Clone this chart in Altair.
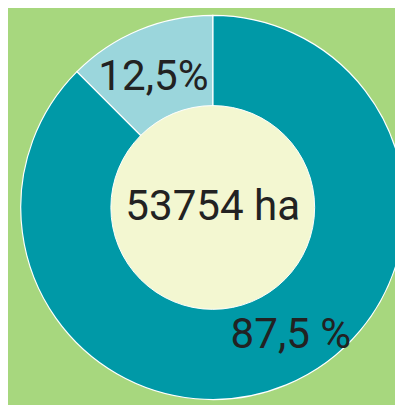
import altair as alt
import pandas as pd

# ---- data ----
labels = ["87,5 %", "12,5%"]
shares = [87.5, 12.5]
slice_order = [0, 1]
colors = ["#0099a7", "#9bd6dc"]
center_label = ["53754 ha"]

BG = "#a7d77e"
HOLE = "#f3f7d1"
TXT = "#222222"
FONT = "Roboto"

# pie centre inside the view (pixels)
CX, CY = 209, 199.5

df = pd.DataFrame({"label": labels, "share": shares, "order": slice_order})
center_df = pd.DataFrame({"text": center_label, "v": [1]})

theta_scale = alt.Scale(domain=[0, 100], range=[0, 6.283185307179586])

ring = alt.Chart(df).mark_arc(radius=196, stroke="white", strokeWidth=1.2).encode(
    x=alt.value(CX),
    y=alt.value(CY),
    theta=alt.Theta("share:Q", stack=True, scale=theta_scale),
    order=alt.Order("order:Q"),
    color=alt.Color("label:N", scale=alt.Scale(domain=labels, range=colors), legend=None),
)

hole = alt.Chart(center_df).mark_arc(radius=104, fill=HOLE, stroke="white", strokeWidth=1).encode(
    x=alt.value(CX),
    y=alt.value(CY),
    theta=alt.value(0),
    theta2=alt.value(6.283185307179586),
)

stacked = (
    alt.Chart(df)
    .transform_window(cum="sum(share)", sort=[alt.SortField("order")], frame=[None, 0])
    .transform_calculate(mid="datum.cum - datum.share / 2")
)

lab_big = stacked.transform_filter(alt.datum.order == 0).mark_text(
    radius=153, thetaOffset=-0.155, fontSize=43, font=FONT, color=TXT
).encode(
    x=alt.value(CX),
    y=alt.value(CY),
    theta=alt.Theta("mid:Q", scale=theta_scale),
    text="label:N",
)

lab_small = stacked.transform_filter(alt.datum.order == 1).mark_text(
    radius=146, thetaOffset=-0.035, fontSize=43, font=FONT, color=TXT
).encode(
    x=alt.value(CX),
    y=alt.value(CY),
    theta=alt.Theta("mid:Q", scale=theta_scale),
    text="label:N",
)

center_txt = alt.Chart(center_df).mark_text(fontSize=43, font=FONT, color=TXT).encode(
    x=alt.value(CX),
    y=alt.value(CY),
    text="text:N",
)

chart = (
    alt.layer(ring, hole, lab_big, lab_small, center_txt)
    .properties(
        width=395,
        height=397,
        autosize=alt.AutoSizeParams(type="none"),
        padding=0,
        background=BG,
    )
    .configure_view(strokeWidth=0)
)

chart.save("out.html", embed_options={"renderer": "svg", "actions": False})
